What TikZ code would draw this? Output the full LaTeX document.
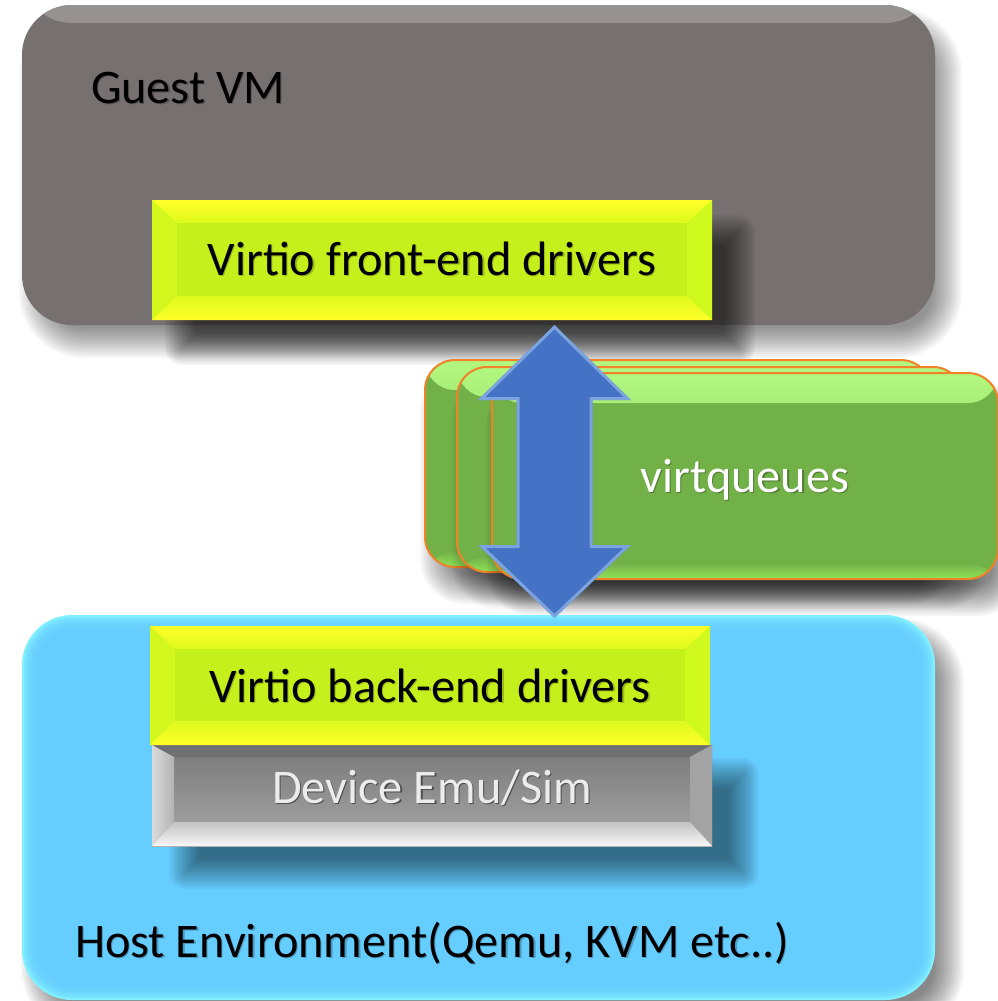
\documentclass[tikz,border=0pt]{standalone}
\usepackage{fontspec}
\setmainfont{Carlito}
\usetikzlibrary{calc}

\definecolor{guestgray}{RGB}{118,112,112}
\definecolor{guestedge}{RGB}{152,147,147}
\definecolor{hostblue}{RGB}{102,204,255}
\definecolor{hostglow}{RGB}{140,255,255}
\definecolor{drvyellow}{RGB}{250,255,34}
\definecolor{drvtop}{RGB}{255,255,40}
\definecolor{drvmid}{RGB}{222,250,30}
\definecolor{drvinner}{RGB}{198,240,28}
\definecolor{drvleft}{RGB}{212,248,30}
\definecolor{drvright}{RGB}{208,250,30}
\definecolor{qgreen}{RGB}{114,176,72}
\definecolor{qgreenhi}{RGB}{178,248,128}
\definecolor{qgreenlo}{RGB}{145,228,88}
\definecolor{qorange}{RGB}{240,130,40}
\definecolor{arrowblue}{RGB}{68,114,196}
\definecolor{arrowhi}{RGB}{170,205,245}
\definecolor{emutop}{RGB}{120,120,120}
\definecolor{emubot}{RGB}{168,168,168}
\definecolor{emutext}{RGB}{236,236,236}

% soft drop shadow: x1 y1 x2 y2 corner dx dy strength (y grows downwards)
\newcommand\softshadow[8]{%
  \foreach \k in {0,2,...,30}{%
    \pgfmathsetmacro\rr{max(#5+\k-15,1)}%
    \fill[black,opacity=#8,rounded corners=\rr pt]
      (#1+#6-\k+15,#2+#7-\k+15) rectangle (#3+#6+\k-15,#4+#7+\k-15);
  }%
}
% text with a small offset shadow behind it
\newcommand\shtext[2]{%
  \makebox[0pt][l]{\kern1.2pt\raisebox{-1.2pt}{\textcolor{#1}{#2}}}#2}

\tikzset{
  every node/.style={font=\fontsize{48.3}{58}\selectfont, inner sep=0pt, outer sep=0pt},
  guestpanel/.style={fill=guestgray, rounded corners=50pt,
    path picture={
      \shade[top color=guestedge, bottom color=guestgray]
        (path picture bounding box.north west) rectangle
        ($(path picture bounding box.north east)+(0,18)$);
    }},
  hostpanel/.style={fill=hostglow, rounded corners=50pt,
    path picture={
      \foreach \k in {0,2,...,16}{%
        \pgfmathsetmacro\hr{50-\k}%
        \fill[hostblue,opacity=0.28,rounded corners=\hr pt]
          ($(path picture bounding box.north west)+(\k,\k)$) rectangle
          ($(path picture bounding box.south east)-(\k,\k)$);
      }
    }},
  yellowbevel/.style={fill=drvyellow,
    path picture={
      \path (path picture bounding box.north west) coordinate (pnw)
            (path picture bounding box.north east) coordinate (pne)
            (path picture bounding box.south west) coordinate (psw)
            (path picture bounding box.south east) coordinate (pse);
      \shade[top color=drvtop, bottom color=drvmid]
        (pnw) -- (pne) -- ($(pne)+(-25,23)$) -- ($(pnw)+(25,23)$) -- cycle;
      \shade[top color=drvmid, bottom color=drvtop]
        (psw) -- (pse) -- ($(pse)+(-25,-24)$) -- ($(psw)+(25,-24)$) -- cycle;
      \fill[drvleft] (pnw) -- ($(pnw)+(25,23)$) -- ($(psw)+(25,-24)$) -- (psw) -- cycle;
      \fill[drvright] (pne) -- ($(pne)+(-25,23)$) -- ($(pse)+(-25,-24)$) -- (pse) -- cycle;
      \fill[drvinner] ($(pnw)+(25,23)$) rectangle ($(pse)+(-25,-24)$);
    }},
  emubevel/.style={fill=emubot,
    path picture={
      \path (path picture bounding box.north west) coordinate (pnw)
            (path picture bounding box.north east) coordinate (pne)
            (path picture bounding box.south west) coordinate (psw)
            (path picture bounding box.south east) coordinate (pse);
      \shade[top color=emutop, bottom color=emubot] (pnw) rectangle (pse);
      \fill[black!56] (pnw) -- (pne) -- ($(pne)+(-22,12)$) -- ($(pnw)+(22,12)$) -- cycle;
      \shade[left color=black!14, right color=black!30]
        (pnw) -- ($(pnw)+(22,12)$) -- ($(psw)+(22,-24)$) -- (psw) -- cycle;
      \fill[black!36] (pne) -- ($(pne)+(-22,12)$) -- ($(pse)+(-22,-24)$) -- (pse) -- cycle;
      \shade[top color=black!24, bottom color=black!3]
        (psw) -- (pse) -- ($(pse)+(-22,-24)$) -- ($(psw)+(22,-24)$) -- cycle;
    }},
  greenq/.style={fill=qgreen, draw=qorange, line width=2pt, rounded corners=30pt,
    path picture={
      \shade[top color=qgreenhi, bottom color=qgreen]
        (path picture bounding box.north west) rectangle
        ($(path picture bounding box.north east)+(0,30)$);
      \shade[top color=qgreen, bottom color=qgreenlo]
        ($(path picture bounding box.south west)+(0,-16)$) rectangle
        (path picture bounding box.south east);
    }},
  arrowbody/.style={fill=arrowblue},
}

\begin{document}
\begin{tikzpicture}[x=1pt,y=-1pt]
\fill[white] (0,0) rectangle (998,1001);
\useasboundingbox (0,0) rectangle (998,1001);

% guest VM panel
\softshadow{22}{5}{935}{325}{50}{12}{18}{0.03}
\node[guestpanel, minimum width=913pt, minimum height=320pt] (guest) at (478.5,165) {};
\node[anchor=base west] (guesttitle) at (91,103) {\shtext{black!25!guestgray}{Guest VM}};

% front-end drivers
\softshadow{152}{200}{712}{320}{2}{28}{30}{0.045}
\node[yellowbevel, minimum width=560pt, minimum height=120pt,
      text height=33pt, text depth=3pt] (fe) at (432,260)
      {\shtext{black!22!drvinner}{Virtio front-end drivers}};

% stack of virtqueues
\softshadow{425}{360}{931}{567}{30}{10}{22}{0.03}
\node[greenq, minimum width=506pt, minimum height=207pt] (q1) at (678,463.5) {};
\softshadow{457}{367}{963}{572}{30}{10}{22}{0.03}
\node[greenq, minimum width=506pt, minimum height=205pt] (q2) at (710,469.5) {};
\softshadow{491}{373}{997}{579}{30}{10}{22}{0.035}
\node[greenq, minimum width=506pt, minimum height=206pt, text=white,
      text height=33pt, text depth=1pt] (q3) at (745,476)
      {\shtext{black!30!qgreen}{virtqueues}};

% host environment panel
\softshadow{22}{615}{935}{1000}{50}{14}{18}{0.035}
\node[hostpanel, minimum width=913pt, minimum height=385pt] (host) at (478.5,807.5) {};
\node[anchor=base west] (hosttitle) at (75,957)
      {\shtext{black!25!hostblue}{Host Environment(Qemu, KVM etc..)}};

% device emulation and back-end drivers
\softshadow{152}{745}{712}{846}{2}{32}{28}{0.035}
\node[emubevel, minimum width=560pt, minimum height=101pt, text=emutext,
      text height=33pt, text depth=18pt] (emu) at (432,795.5)
      {\shtext{black!35!emutop}{Device Emu/Sim}};
\node[yellowbevel, minimum width=560pt, minimum height=119pt,
      text height=33pt, text depth=0pt] (be) at (430,685.5)
      {\shtext{black!22!drvinner}{Virtio back-end drivers}};

% double arrow between the drivers
\coordinate (atip) at ($(fe.south)+(122.5,5)$);
\coordinate (btip) at ($(be.north)+(124.5,-8)$);
\path (atip) ++(76.5,75) coordinate (a1) ++(-38.5,0) coordinate (a2)
      ++(0,145) coordinate (a3) ++(38.5,0) coordinate (a4);
\path (btip) ++(-76.5,-73) coordinate (b1) ++(38.5,0) coordinate (b2)
      ++(0,-145) coordinate (b3) ++(-38.5,0) coordinate (b4);
\fill[arrowbody,
  path picture={
    \draw[arrowhi, line width=6pt, opacity=0.55, line join=miter]
      (atip) -- (a1) -- (a2) -- (a3) -- (a4) -- (btip) -- (b1) -- (b2) -- (b3) -- (b4) -- cycle;
  }]
  (atip) -- (a1) -- (a2) -- (a3) -- (a4) -- (btip) -- (b1) -- (b2) -- (b3) -- (b4) -- cycle;
\end{tikzpicture}
\end{document}
